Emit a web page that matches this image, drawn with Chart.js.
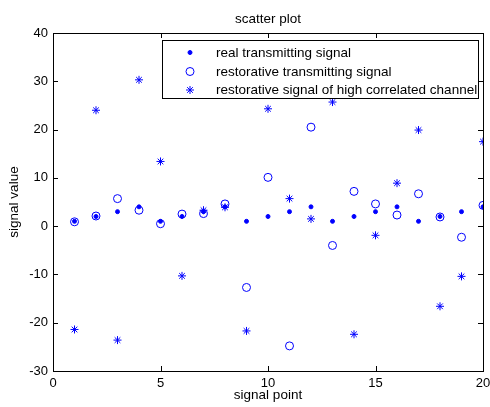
<!DOCTYPE html>
<html><head><meta charset="utf-8">
<script src="https://cdn.jsdelivr.net/npm/chart.js@4/dist/chart.umd.min.js"></script>
<style>html,body{margin:0;padding:0;background:#fff}#w{width:490px;height:407px}</style>
</head><body><div id="w"><canvas id="c" width="490" height="407"></canvas></div>
<script>
const xPoints = [1,2,3,4,5,6,7,8,9,10,11,12,13,14,15,16,17,18,19,20];
const realSignal = [1,2,3,4,1,2,3,4,1,2,3,4,1,2,3,4,1,2,3,4];
const restoredSignal = [0.9,2.1,5.7,3.3,0.5,2.5,2.6,4.6,-12.7,10.1,-24.8,20.5,-4.0,7.2,4.6,2.3,6.7,1.9,-2.3,4.3];
const correlatedSignal = [-21.4,24.0,-23.6,30.3,13.4,-10.3,3.3,3.9,-21.7,24.3,5.7,1.5,25.7,-22.4,-1.9,8.9,19.9,-16.6,-10.4,17.5];
const seriesNames = ['real transmitting signal','restorative transmitting signal','restorative signal of high correlated channel'];
const xTicks = [0,5,10,15,20];
const yTicks = [-30,-20,-10,0,10,20,30,40];

const FONT = '"Liberation Sans", Arial, sans-serif';
const FS = 13;
const LFS = 13.5;
const BLUE = '#0000ff';
const mk = (ys) => xPoints.map((x,i)=>({x, y: ys[i]}));

const decor = {
  id:'decor',
  afterDraw(chart){
    const {ctx, chartArea:a, scales:{x,y}} = chart;
    ctx.save();
    ctx.strokeStyle='#000'; ctx.lineWidth=1;
    ctx.strokeRect(Math.round(a.left)+0.5, Math.round(a.top)+0.5, Math.round(a.right-a.left), Math.round(a.bottom-a.top));
    ctx.beginPath();
    const L=5;
    xTicks.forEach(v=>{const px=Math.round(x.getPixelForValue(v))+0.5;
      ctx.moveTo(px,a.bottom); ctx.lineTo(px,a.bottom-L);
      ctx.moveTo(px,a.top); ctx.lineTo(px,a.top+L);});
    yTicks.forEach(v=>{const py=Math.round(y.getPixelForValue(v))+0.5;
      ctx.moveTo(a.left,py); ctx.lineTo(a.left+L,py);
      ctx.moveTo(a.right,py); ctx.lineTo(a.right-L,py);});
    ctx.stroke();
    ctx.fillStyle='#000'; ctx.font=LFS+'px '+FONT; ctx.textAlign='center'; ctx.textBaseline='middle';
    const cx=(a.left+a.right)/2;
    ctx.fillText('scatter plot', cx, 19);
    ctx.fillText('signal point', cx, 395);
    ctx.save(); ctx.translate(14,(a.top+a.bottom)/2); ctx.rotate(-Math.PI/2); ctx.fillText('signal value',0,0); ctx.restore();
    // legend
    const bx=162, by=40, bw=316, bh=58;
    ctx.fillStyle='#fff'; ctx.fillRect(bx,by,bw,bh);
    ctx.strokeStyle='#000'; ctx.strokeRect(bx+0.5,by+0.5,bw,bh);
    ctx.save(); ctx.beginPath(); ctx.rect(bx+1,by+1,bw-1,bh-1); ctx.clip();
    const rows=[52.5,71.5,90];
    chart.data.datasets.forEach((ds,i)=>{
      ctx.fillStyle=ds.backgroundColor; ctx.strokeStyle=ds.borderColor; ctx.lineWidth=ds.borderWidth;
      Chart.helpers.drawPoint(ctx,{pointStyle:ds.pointStyle,radius:ds.pointRadius,borderWidth:ds.borderWidth,rotation:0},190,rows[i]);
      ctx.fillStyle='#000'; ctx.textAlign='left'; ctx.font=LFS+'px '+FONT;
      ctx.fillText(seriesNames[i],216,rows[i]+0.5);
    });
    ctx.restore();
    ctx.restore();
  }
};

new Chart(document.getElementById('c'),{
  type:'scatter',
  data:{datasets:[
    {label:seriesNames[0],data:mk(realSignal),pointStyle:'circle',pointRadius:2,backgroundColor:BLUE,borderColor:BLUE,borderWidth:1},
    {label:seriesNames[1],data:mk(restoredSignal),pointStyle:'circle',pointRadius:4,backgroundColor:'rgba(0,0,0,0)',borderColor:BLUE,borderWidth:1},
    {label:seriesNames[2],data:mk(correlatedSignal),pointStyle:'star',pointRadius:4,backgroundColor:BLUE,borderColor:BLUE,borderWidth:1}
  ]},
  options:{
    responsive:false, animation:false, devicePixelRatio:1,
    layout:{padding:{top:33,right:7,left:0,bottom:0}},
    plugins:{legend:{display:false},tooltip:{enabled:false},title:{display:false}},
    scales:{
      x:{type:'linear',min:0,max:20,
        afterBuildTicks(s){s.ticks=xTicks.map(v=>({value:v}));},
        afterFit(s){s.height=36; s.paddingLeft=0; s.paddingRight=0;},
        grid:{display:false,drawTicks:false},border:{display:false},
        ticks:{color:'#000',font:{family:FONT,size:FS},padding:5,maxRotation:0}},
      y:{type:'linear',min:-30,max:40,
        afterBuildTicks(s){s.ticks=yTicks.map(v=>({value:v}));},
        afterFit(s){s.width=53; s.paddingTop=0; s.paddingBottom=0;},
        grid:{display:false,drawTicks:false},border:{display:false},
        ticks:{color:'#000',font:{family:FONT,size:FS},padding:5}}
    }
  },
  plugins:[decor]
});
</script></body></html>
